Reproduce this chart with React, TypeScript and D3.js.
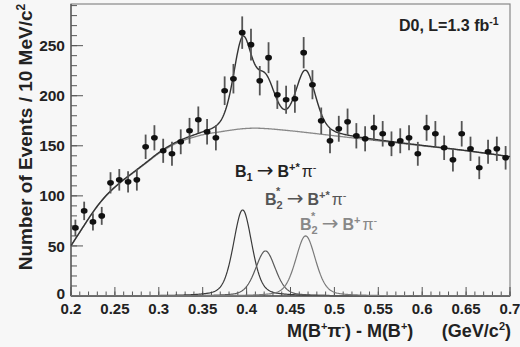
import React from 'react';
import * as d3 from 'd3';

const W = 520;
const H = 347;

// bin centres (GeV/c^2) and event counts per 10 MeV/c^2
const massBins = [
  0.205, 0.215, 0.225, 0.235, 0.245, 0.255, 0.265, 0.275, 0.285, 0.295,
  0.305, 0.315, 0.325, 0.335, 0.345, 0.355, 0.365, 0.375, 0.385, 0.395,
  0.405, 0.415, 0.425, 0.435, 0.445, 0.455, 0.465, 0.475, 0.485, 0.495,
  0.505, 0.515, 0.525, 0.535, 0.545, 0.555, 0.565, 0.575, 0.585, 0.595,
  0.605, 0.615, 0.625, 0.635, 0.645, 0.655, 0.665, 0.675, 0.685, 0.695,
];
const counts = [
  68, 85, 74, 80, 113, 116, 114, 116, 149, 158,
  145, 142, 154, 165, 176, 164, 158, 205, 217, 263,
  251, 215, 238, 201, 196, 197, 243, 211, 175, 155,
  167, 174, 160, 157, 168, 162, 152, 155, 158, 142,
  168, 162, 148, 136, 162, 147, 128, 144, 147, 138,
];

// background shape (knots)
const bgMass = [0.2, 0.214, 0.227, 0.24, 0.256, 0.271, 0.286, 0.301, 0.3165, 0.33, 0.35, 0.37, 0.395, 0.415, 0.45, 0.5, 0.55, 0.6, 0.65, 0.7];
const bgLevel = [50, 69, 86, 100, 113, 123, 133, 143, 151, 156, 161, 164, 167, 167.5, 165, 160, 155, 150, 145, 139];

// signal components: B1 -> B*pi, B2* -> B*pi, B2* -> B pi
const signalMean = [0.3955, 0.4215, 0.4672];
const signalFwhm = [0.025, 0.027, 0.027];
const signalPeak = [86, 45, 60];
const signalColor = ['#3a3a3a', '#5a5a5a', '#7a7a7a'];

const xTickLabels = ['0.2', '0.25', '0.3', '0.35', '0.4', '0.45', '0.5', '0.55', '0.6', '0.65', '0.7'];
const yTickLabels = ['0', '50', '100', '150', '200', '250'];

const FONT = "'Liberation Sans', Arial, Helvetica, sans-serif";

function hermiteBg(m: number): number {
  const n = bgMass.length;
  const slopes = bgMass.map((_, i) => {
    if (i === 0) return (bgLevel[1] - bgLevel[0]) / (bgMass[1] - bgMass[0]);
    if (i === n - 1) return (bgLevel[n - 1] - bgLevel[n - 2]) / (bgMass[n - 1] - bgMass[n - 2]);
    return (bgLevel[i + 1] - bgLevel[i - 1]) / (bgMass[i + 1] - bgMass[i - 1]);
  });
  let i = d3.bisectRight(bgMass, m) - 1;
  i = Math.max(0, Math.min(n - 2, i));
  const h = bgMass[i + 1] - bgMass[i];
  const t = (m - bgMass[i]) / h;
  const t2 = t * t, t3 = t2 * t;
  return (2 * t3 - 3 * t2 + 1) * bgLevel[i] + (t3 - 2 * t2 + t) * h * slopes[i] +
    (-2 * t3 + 3 * t2) * bgLevel[i + 1] + (t3 - t2) * h * slopes[i + 1];
}

function signal(k: number, m: number): number {
  const eta = 0.35;
  const u = (m - signalMean[k]) / signalFwhm[k];
  const lor = 1 / (1 + 4 * u * u);
  const gau = Math.exp(-4 * Math.LN2 * u * u);
  return signalPeak[k] * (eta * lor + (1 - eta) * gau);
}

function DecayLabel(props: { x: number; y: number; color: string; sub: string; star: boolean; daughter: string }) {
  const { x, y, color, sub, star, daughter } = props;
  return (
    <g fill={color}>
      {star && (
        <text x={x + 11} y={y - 10} fontSize={11} fontWeight="bold">*</text>
      )}
      <text x={x} y={y} fontSize={16} fontWeight="bold">
        B<tspan dy={4} fontSize={11}>{sub}</tspan>
        <tspan dy={-4} dx={4} fontFamily="'DejaVu Sans', sans-serif" fontSize={20} fontWeight="normal">→</tspan>
        <tspan dx={4}>B</tspan>
        <tspan dy={-6} fontSize={11}>{daughter}</tspan>
        <tspan dy={6} dx={2} fontWeight="normal">π</tspan>
        <tspan dy={-6} fontSize={11} fontWeight="normal">-</tspan>
      </text>
    </g>
  );
}

export default function App() {
  const left = 71, right = 510, top = 4, bottom = 296;
  const x = d3.scaleLinear().domain([0.2, 0.7]).range([left, right]);
  const y = d3.scaleLinear().domain([0, 291.6]).range([bottom, top]);

  const grid = d3.range(0, 501).map((i) => 0.2 + i * 0.001);
  const line = d3.line<[number, number]>().x((d) => x(d[0])).y((d) => y(d[1]));
  const bgPath = line(grid.map((m) => [m, hermiteBg(m)]))!;
  const totalPath = line(grid.map((m) => [m, hermiteBg(m) + signal(0, m) + signal(1, m) + signal(2, m)]))!;
  const sigPaths = signalMean.map((_, k) => line(grid.map((m) => [m, signal(k, m)]))!);

  const xMajor = x.ticks(10);
  const xMinor = x.ticks(50);
  const yMajor = y.ticks(6);
  const yMinor = y.ticks(30);

  const axisColor = '#555';

  return (
    <svg width={W} height={H} style={{ position: 'absolute', left: 0, top: 0, background: '#f7f7f7' }} fontFamily={FONT}>
      <rect x={0} y={0} width={W} height={H} fill="#f7f7f7" />
      {/* frame */}
      <rect x={left} y={top} width={right - left} height={bottom - top} fill="none" stroke="#888" strokeWidth={1.2} />
      <line x1={left} x2={left} y1={top} y2={bottom} stroke={axisColor} strokeWidth={1.3} />
      <line x1={left} x2={right} y1={bottom} y2={bottom} stroke={axisColor} strokeWidth={1.5} />
      {/* x ticks */}
      {xMinor.map((t, i) => (
        <line key={'xm' + i} x1={x(t)} x2={x(t)} y1={bottom} y2={bottom - 4.5} stroke={axisColor} strokeWidth={1} />
      ))}
      {xMajor.map((t, i) => (
        <line key={'xM' + i} x1={x(t)} x2={x(t)} y1={bottom} y2={bottom - 9} stroke={axisColor} strokeWidth={1} />
      ))}
      {xMajor.map((t, i) => (
        <text key={'xl' + i} x={x(t)} y={314} textAnchor="middle" fontSize={15} fontWeight="bold" fill="#222">
          {xTickLabels[i]}
        </text>
      ))}
      {/* y ticks */}
      {yMinor.map((t, i) => (
        <line key={'ym' + i} x1={left} x2={left + 6} y1={y(t)} y2={y(t)} stroke={axisColor} strokeWidth={1} />
      ))}
      {yMajor.map((t, i) => (
        <line key={'yM' + i} x1={left} x2={left + 12} y1={y(t)} y2={y(t)} stroke={axisColor} strokeWidth={1} />
      ))}
      {yMajor.map((t, i) => (
        <text key={'yl' + i} x={65} y={t === 0 ? y(t) - 3 : y(t)} dy="0.36em" textAnchor="end" fontSize={15.5} fontWeight="bold" fill="#222">
          {yTickLabels[i]}
        </text>
      ))}
      {/* axis titles */}
      <text transform={`translate(32,${137}) rotate(-90)`} textAnchor="middle" fontSize={19} fontWeight="bold" fill="#222">
        Number of Events / 10 MeV/c<tspan dy={-7} fontSize={12}>2</tspan>
      </text>
      <text x={287} y={337} fontSize={18} fontWeight="bold" fill="#222">
        M(B<tspan dy={-7} fontSize={11}>+</tspan><tspan dy={7}>π</tspan><tspan dy={-7} fontSize={11}>-</tspan><tspan dy={7}>) - M(B</tspan><tspan dy={-7} fontSize={11}>+</tspan><tspan dy={7}>)</tspan>
      </text>
      <text x={511} y={337} textAnchor="end" fontSize={18} fontWeight="bold" fill="#222">
        (GeV/c<tspan dy={-7} fontSize={11}>2</tspan><tspan dy={7}>)</tspan>
      </text>
      {/* experiment label */}
      <text x={399} y={31} fontSize={16} fontWeight="bold" fill="#222">
        D0, L=1.3 fb<tspan dy={-6} fontSize={10.5}>-1</tspan>
      </text>
      {/* curves */}
      {sigPaths.map((p, k) => (
        <path key={'s' + k} d={p} fill="none" stroke={signalColor[k]} strokeWidth={1.2} />
      ))}
      <path d={bgPath} fill="none" stroke="#888" strokeWidth={1.3} />
      <path d={totalPath} fill="none" stroke="#333" strokeWidth={1.4} />
      {/* data points */}
      {massBins.map((m, i) => {
        const c = counts[i];
        const e = Math.sqrt(c);
        return (
          <g key={'p' + i}>
            <line x1={x(m)} x2={x(m)} y1={y(c - e)} y2={y(c + e)} stroke="#555" strokeWidth={1.8} />
            <ellipse cx={x(m)} cy={y(c)} rx={3.4} ry={2.8} fill="#111" />
          </g>
        );
      })}
      {/* component labels */}
      <DecayLabel x={235} y={177} color="#222" sub="1" star={false} daughter="+*" />
      <DecayLabel x={265} y={205} color="#555" sub="2" star={true} daughter="+*" />
      <DecayLabel x={300} y={230} color="#888" sub="2" star={true} daughter="+" />
    </svg>
  );
}
